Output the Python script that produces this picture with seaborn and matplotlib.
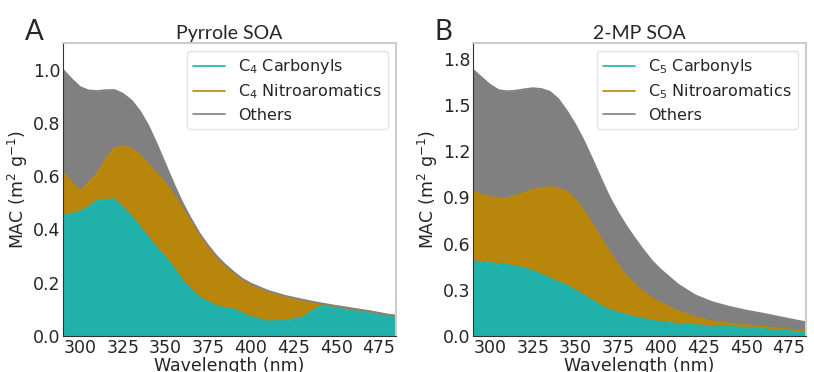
import numpy as np
import pandas as pd
import matplotlib
matplotlib.use('Agg')
import matplotlib.pyplot as plt
import seaborn as sns

# wavelengths (nm) shared by both panels
wavelength = [290, 295, 300, 305, 310, 315, 320, 325, 330, 335, 340, 345, 350, 355, 360, 365,
              370, 375, 380, 385, 390, 395, 400, 410, 420, 430, 440, 450, 460, 470, 480, 485]

# Pyrrole SOA contributions (m2 g-1)
pyr_carbonyls = [0.451, 0.459, 0.468, 0.485, 0.508, 0.512, 0.514, 0.483, 0.450, 0.410, 0.370, 0.330,
                 0.295, 0.255, 0.210, 0.175, 0.145, 0.128, 0.113, 0.105, 0.100, 0.085, 0.072, 0.055,
                 0.058, 0.070, 0.110, 0.111, 0.101, 0.091, 0.079, 0.075]
pyr_nitro = [0.163, 0.119, 0.077, 0.092, 0.102, 0.153, 0.192, 0.231, 0.255, 0.270, 0.275, 0.280,
             0.280, 0.275, 0.270, 0.253, 0.231, 0.204, 0.179, 0.155, 0.132, 0.123, 0.118, 0.109,
             0.088, 0.063, 0.011, 0.000, 0.000, 0.000, 0.000, 0.000]
pyr_others = [0.386, 0.387, 0.390, 0.345, 0.310, 0.258, 0.218, 0.196, 0.180, 0.165, 0.145, 0.110,
              0.070, 0.040, 0.020, 0.012, 0.009, 0.008, 0.008, 0.008, 0.008, 0.007, 0.007, 0.006,
              0.005, 0.004, 0.003, 0.002, 0.002, 0.002, 0.002, 0.002]

# 2-MP SOA contributions (m2 g-1)
mp_carbonyls = [0.486, 0.480, 0.474, 0.467, 0.461, 0.452, 0.440, 0.422, 0.400, 0.375, 0.350, 0.327,
                0.296, 0.262, 0.230, 0.196, 0.170, 0.151, 0.136, 0.123, 0.111, 0.100, 0.092, 0.079,
                0.071, 0.065, 0.059, 0.054, 0.045, 0.038, 0.032, 0.029]
mp_nitro = [0.454, 0.438, 0.428, 0.426, 0.434, 0.460, 0.490, 0.526, 0.560, 0.593, 0.610, 0.608,
            0.589, 0.548, 0.495, 0.439, 0.375, 0.309, 0.254, 0.210, 0.174, 0.145, 0.123, 0.081,
            0.052, 0.032, 0.023, 0.016, 0.015, 0.010, 0.006, 0.006]
mp_others = [0.788, 0.760, 0.728, 0.702, 0.693, 0.680, 0.671, 0.660, 0.643, 0.617, 0.577, 0.525,
             0.485, 0.455, 0.420, 0.385, 0.355, 0.340, 0.320, 0.297, 0.270, 0.240, 0.215, 0.175,
             0.142, 0.123, 0.108, 0.095, 0.085, 0.074, 0.062, 0.055]

colors = ['#20B2AA', '#B8860B', '#808080']

sns.set_style('white')
plt.rcParams['font.family'] = ['DejaVu Sans']

fig = plt.figure(figsize=(8.14, 3.72), dpi=100)
ax_a = fig.add_axes([0.0774, 0.0968, 0.4091, 0.7876])
ax_b = fig.add_axes([0.5811, 0.0968, 0.4091, 0.7876])


def draw_panel(ax, comps, labels, title, letter, yticks):
    df = pd.DataFrame({'wl': wavelength})
    base = np.zeros(len(wavelength))
    for comp, lab, col in zip(comps, labels, colors):
        top = base + np.array(comp)
        ax.fill_between(df['wl'], base, top, color=col, linewidth=0)
        df['top'] = top
        sns.lineplot(data=df, x='wl', y='top', ax=ax, color=col, linewidth=1.2, label=lab)
        base = top
    ax.set_xlim(290, 485)
    ax.set_ylim(0, 1.1 * base.max())
    ax.set_xticks([300, 325, 350, 375, 400, 425, 450, 475])
    ax.set_yticks(yticks)
    ax.tick_params(length=0, labelsize=12.5, pad=2)
    ax.set_xlabel('Wavelength (nm)', fontsize=12.5, labelpad=0)
    ax.set_ylabel('MAC (m$^2$ g$^{-1}$)', fontsize=12.5, labelpad=2)
    ax.set_title(title, fontsize=14, family='Lato', pad=3)
    ax.text(-0.115, 1.01, letter, transform=ax.transAxes, fontsize=20, family='Lato')
    for s in ['top', 'right']:
        ax.spines[s].set_color('#cccccc')
        ax.spines[s].set_linewidth(1.5)
    for s in ['left', 'bottom']:
        ax.spines[s].set_color('#333333')
    ax.legend(loc='upper right', fontsize=11.5, frameon=True, handlelength=2.0,
              labelspacing=0.4, borderaxespad=0.5, edgecolor='#dddddd')


draw_panel(ax_a, [pyr_carbonyls, pyr_nitro, pyr_others],
           ['C$_4$ Carbonyls', 'C$_4$ Nitroaromatics', 'Others'],
           'Pyrrole SOA', 'A', [0.0, 0.2, 0.4, 0.6, 0.8, 1.0])
draw_panel(ax_b, [mp_carbonyls, mp_nitro, mp_others],
           ['C$_5$ Carbonyls', 'C$_5$ Nitroaromatics', 'Others'],
           '2-MP SOA', 'B', [0.0, 0.3, 0.6, 0.9, 1.2, 1.5, 1.8])

fig.savefig('out.png', dpi=100)
